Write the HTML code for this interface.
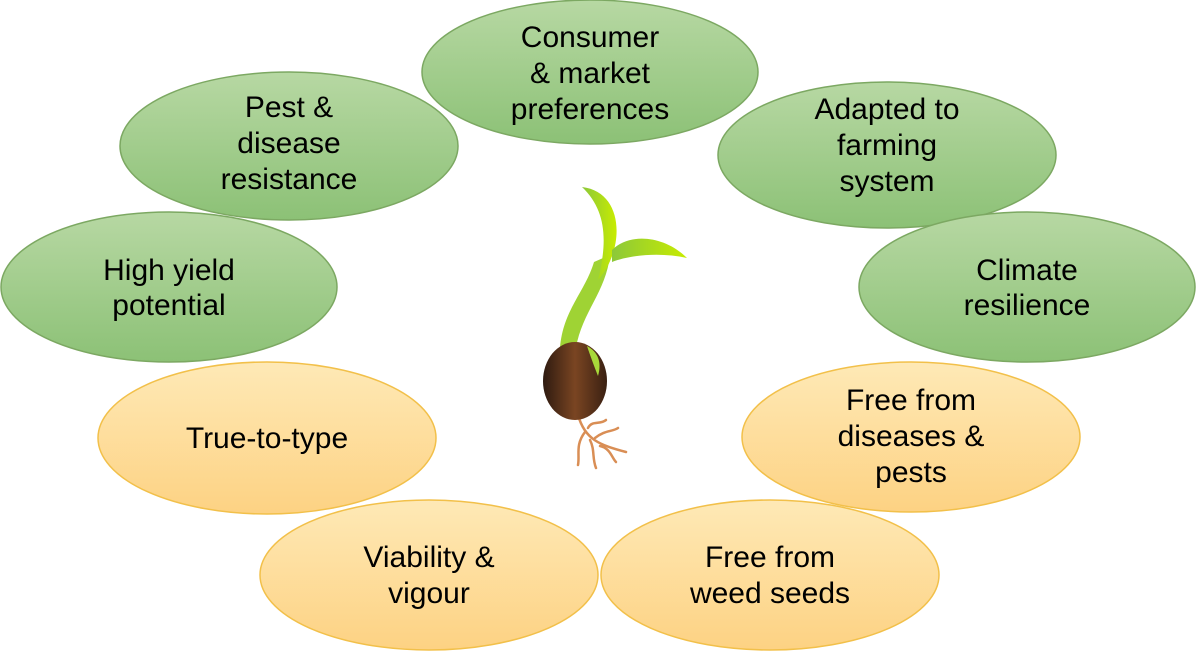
<!DOCTYPE html>
<html><head><meta charset="utf-8"><style>
html,body{margin:0;padding:0;background:#fff;}
svg{display:block;}
text{font-family:"Liberation Sans",sans-serif;font-size:30px;fill:#000;text-anchor:middle;}
</style></head><body>
<svg width="1196" height="655" viewBox="0 0 1196 655" xmlns="http://www.w3.org/2000/svg">
<defs>
<linearGradient id="g" x1="0" y1="0" x2="0" y2="1"><stop offset="0" stop-color="#b7d8a3"/><stop offset="1" stop-color="#8cc176"/></linearGradient>
<linearGradient id="o" x1="0" y1="0" x2="0" y2="1"><stop offset="0" stop-color="#fee9b6"/><stop offset="1" stop-color="#fdd283"/></linearGradient>
<linearGradient id="seed" x1="0" y1="0" x2="1" y2="0"><stop offset="0" stop-color="#2e1a10"/><stop offset="0.5" stop-color="#7a4522"/><stop offset="1" stop-color="#3a2012"/></linearGradient>
<linearGradient id="leaf" x1="0" y1="0" x2="1" y2="0"><stop offset="0" stop-color="#8cc83a"/><stop offset="1" stop-color="#c8ec00"/></linearGradient>
</defs>
<g stroke="#7ca862" stroke-width="1.5" fill="url(#g)">
<ellipse cx="590" cy="72" rx="168" ry="72"/>
<ellipse cx="289" cy="146" rx="169" ry="74"/>
<ellipse cx="887" cy="155" rx="169" ry="73"/>
<ellipse cx="169" cy="287" rx="168" ry="75"/>
<ellipse cx="1027" cy="287" rx="168" ry="75"/>
</g>
<g stroke="#f2c04a" stroke-width="1.5" fill="url(#o)">
<ellipse cx="267" cy="438" rx="169" ry="76"/>
<ellipse cx="911" cy="437" rx="169" ry="75"/>
<ellipse cx="429" cy="575" rx="169" ry="75"/>
<ellipse cx="770" cy="575" rx="169" ry="75"/>
</g>
<text x="590" y="47">Consumer</text><text x="590" y="83">&amp; market</text><text x="590" y="119">preferences</text>
<text x="289" y="117">Pest &amp;</text><text x="289" y="153">disease</text><text x="289" y="189">resistance</text>
<text x="887" y="119">Adapted to</text><text x="887" y="155">farming</text><text x="887" y="191">system</text>
<text x="169" y="280">High yield</text><text x="169" y="315">potential</text>
<text x="1027" y="280">Climate</text><text x="1027" y="315">resilience</text>
<text x="267" y="448">True-to-type</text>
<text x="911" y="410">Free from</text><text x="911" y="446">diseases &amp;</text><text x="911" y="482">pests</text>
<text x="429" y="567">Viability &amp;</text><text x="429" y="603">vigour</text>
<text x="770" y="567">Free from</text><text x="770" y="603">weed seeds</text>
<!-- seedling -->
<path d="M560 348 C563 310 585 292 594 262 L610 255 C606 292 582 312 576 348 Z" fill="#9fd334"/>
<path d="M582 187 C625 192 625 250 598 280 C608 240 606 210 582 187 Z" fill="url(#leaf)"/>
<path d="M612 250 C630 232 665 236 687 258 C660 252 630 255 612 262 Z" fill="url(#leaf)"/>
<g stroke="#d98e55" stroke-width="2.5" fill="none" stroke-linecap="round">
<path d="M578 415 C585 440 600 445 626 452"/>
<path d="M585 432 C575 445 580 455 578 465"/>
<path d="M590 440 C595 450 592 458 596 468"/>
<path d="M595 438 C605 430 612 432 618 428"/>
<path d="M600 446 C610 448 612 458 616 462"/>
<path d="M588 428 C592 420 600 425 606 420"/>
</g>
<ellipse cx="575" cy="381" rx="32" ry="39" fill="url(#seed)"/>
<path d="M587 346 C598 352 602 362 598 376 C594 366 590 355 587 346 Z" fill="#a8d83a"/>
</svg>
</body></html>
